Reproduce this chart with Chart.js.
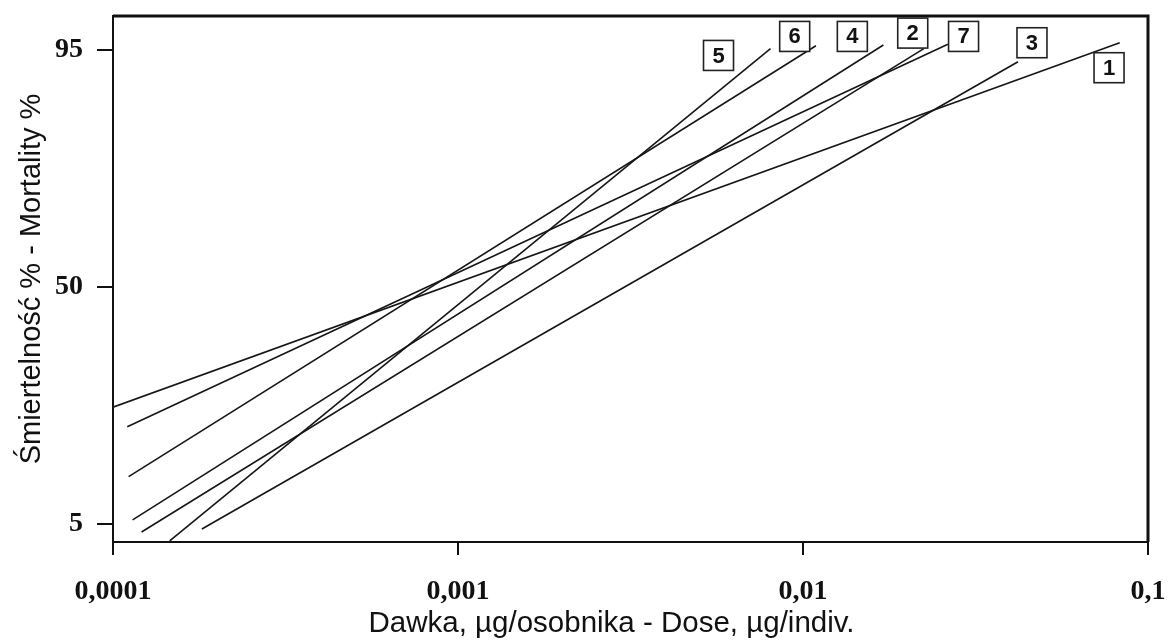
<!DOCTYPE html>
<html>
<head>
<meta charset="utf-8">
<script src="https://cdn.jsdelivr.net/npm/chart.js@4.4.1/dist/chart.umd.min.js"></script>
<style>
  html, body { margin: 0; padding: 0; background: #fff; }
  #wrap { width: 1176px; height: 643px; }
</style>
</head>
<body>
<div id="wrap"><canvas id="probitChart" width="1176" height="643"></canvas></div>
<script>
// line labels (1..7) and start / end points of each probit line
const lineNames = ['1', '2', '3', '4', '5', '6', '7'];
const doseStart = [0.0001, 0.000121, 0.000181, 0.000114, 0.000146, 0.000111, 0.00011];
const doseEnd = [0.0828, 0.0224, 0.042, 0.0171, 0.00805, 0.0109, 0.0263];
const mortStart = [20.2, 4.45, 4.65, 5.3, 3.9, 9.4, 16.6];
const mortEnd = [95.5, 95.1, 94.1, 95.35, 95.1, 95.3, 95.4];

// where the boxed numbers sit (dose, mortality %)
const boxDose = [0.0771, 0.0208, 0.0461, 0.0139, 0.00569, 0.00946, 0.0292];
const boxMort = [93.6, 96.1, 95.5, 95.9, 94.6, 95.9, 95.9];

// axis ticks
const xTicks = [0.0001, 0.001, 0.01, 0.1];
const xTickLabels = ['0,0001', '0,001', '0,01', '0,1'];
const yTicks = [5, 50, 95];

const xTitle = 'Dawka, \u00b5g/osobnika - Dose, \u00b5g/indiv.';
const yTitle = '\u015amiertelno\u015b\u0107 % - Mortality %';

// inverse normal (Acklam), probability -> probit z
function probit(p) {
  const a = [-39.69683028665376, 220.9460984245205, -275.9285104469687, 138.3577518672690, -30.66479806614716, 2.506628277459239];
  const b = [-54.47609879822406, 161.5858368580409, -155.6989798598866, 66.80131188771972, -13.28068155288572];
  const c = [-0.007784894002430293, -0.3223964580411365, -2.400758277161838, -2.549732539343734, 4.374664141464968, 2.938163982698783];
  const d = [0.007784695709041462, 0.3224671290700398, 2.445134137142996, 3.754408661907416];
  const pl = 0.02425;
  if (p < pl) {
    const q = Math.sqrt(-2 * Math.log(p));
    return (((((c[0]*q+c[1])*q+c[2])*q+c[3])*q+c[4])*q+c[5]) / ((((d[0]*q+d[1])*q+d[2])*q+d[3])*q+1);
  }
  if (p > 1 - pl) {
    const q = Math.sqrt(-2 * Math.log(1 - p));
    return -(((((c[0]*q+c[1])*q+c[2])*q+c[3])*q+c[4])*q+c[5]) / ((((d[0]*q+d[1])*q+d[2])*q+d[3])*q+1);
  }
  const q = p - 0.5, r = q * q;
  return (((((a[0]*r+a[1])*r+a[2])*r+a[3])*r+a[4])*r+a[5])*q / (((((b[0]*r+b[1])*r+b[2])*r+b[3])*r+b[4])*r+1);
}
const pz = (pct) => probit(pct / 100);

const datasets = lineNames.map((name, i) => ({
  label: name,
  data: [
    { x: doseStart[i], y: pz(mortStart[i]) },
    { x: doseEnd[i], y: pz(mortEnd[i]) }
  ],
  showLine: true,
  borderColor: '#161616',
  borderWidth: 1.6,
  pointRadius: 0,
  fill: false
}));

// frame (top + right), x title and the boxed line numbers
const framePlugin = {
  id: 'frameAndBoxes',
  afterDatasetsDraw(chart) {
    const { ctx, chartArea, scales } = chart;
    ctx.save();
    ctx.strokeStyle = '#111';
    ctx.lineWidth = 3;
    ctx.beginPath();
    ctx.moveTo(chartArea.left, chartArea.top);
    ctx.lineTo(chartArea.right, chartArea.top);
    ctx.lineTo(chartArea.right, chartArea.bottom);
    ctx.stroke();

    // x axis title, sits a bit left of centre in the original
    ctx.font = '29.5px "Liberation Sans", Arial, sans-serif';
    ctx.fillStyle = '#111';
    ctx.textAlign = 'center';
    ctx.textBaseline = 'alphabetic';
    ctx.fillText(xTitle, (chartArea.left + chartArea.right) / 2 - 19, 632);

    ctx.font = 'bold 22px "Liberation Sans", Arial, sans-serif';
    ctx.textBaseline = 'middle';
    lineNames.forEach((name, i) => {
      const cx = scales.x.getPixelForValue(boxDose[i]);
      const cy = scales.y.getPixelForValue(pz(boxMort[i]));
      ctx.fillStyle = '#fff';
      ctx.fillRect(cx - 15, cy - 15, 30, 30);
      ctx.lineWidth = 1.6;
      ctx.strokeStyle = '#222';
      ctx.strokeRect(cx - 15, cy - 15, 30, 30);
      ctx.fillStyle = '#111';
      ctx.fillText(name, cx, cy + 1);
    });
    ctx.restore();
  }
};

const ctx = document.getElementById('probitChart').getContext('2d');
const probitChart = new Chart(ctx, {
  type: 'scatter',
  data: { datasets },
  plugins: [framePlugin],
  options: {
    responsive: false,
    animation: false,
    layout: { padding: { top: 16, right: 28, left: 0, bottom: 0 } },
    plugins: { legend: { display: false }, tooltip: { enabled: false } },
    scales: {
      x: {
        type: 'logarithmic',
        min: 0.0001,
        max: 0.1,
        afterFit(scale) {
          scale.height = 101;
          scale.paddingLeft = 0;
          scale.paddingRight = 0;
        },
        afterBuildTicks(scale) { scale.ticks = xTicks.map(v => ({ value: v })); },
        border: { display: true, color: '#111', width: 2 },
        grid: { drawOnChartArea: false, drawTicks: true, tickLength: 13, color: '#111', lineWidth: 2 },
        ticks: {
          color: '#111',
          padding: 20,
          maxRotation: 0,
          font: { family: '"Liberation Serif", "Times New Roman", serif', size: 28, weight: 'bold' },
          callback(value) {
            const k = xTicks.indexOf(value);
            return k >= 0 ? xTickLabels[k] : '';
          }
        },
        title: { display: false }
      },
      y: {
        type: 'linear',
        min: -1.77,
        max: 1.881,
        afterFit(scale) {
          scale.width = 113;
          scale.paddingTop = 0;
          scale.paddingBottom = 0;
        },
        afterBuildTicks(scale) { scale.ticks = yTicks.map(v => ({ value: pz(v) })); },
        border: { display: true, color: '#111', width: 2 },
        grid: { drawOnChartArea: false, drawTicks: true, tickLength: 16, color: '#111', lineWidth: 2 },
        ticks: {
          color: '#111',
          padding: 14,
          font: { family: '"Liberation Serif", "Times New Roman", serif', size: 28, weight: 'bold' },
          callback(value, index) { return String(yTicks[index]); }
        },
        title: {
          display: true,
          text: yTitle,
          color: '#111',
          padding: { top: 15, bottom: 0 },
          font: { family: '"Liberation Sans", Arial, sans-serif', size: 29 }
        }
      }
    }
  }
});
</script>
</body>
</html>
